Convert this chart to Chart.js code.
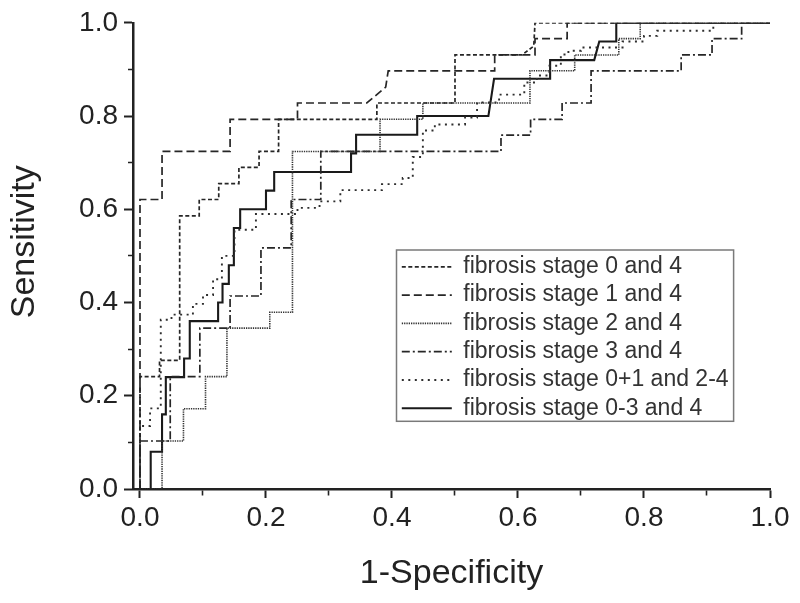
<!DOCTYPE html>
<html>
<head>
<meta charset="utf-8">
<script src="https://cdn.jsdelivr.net/npm/chart.js@4.4.1/dist/chart.umd.min.js"></script>
<style>
html,body{margin:0;padding:0;background:#ffffff;}
#wrap{width:800px;height:603px;position:relative;}
</style>
</head>
<body>
<div id="wrap"><canvas id="c"></canvas></div>
<script>
// ---- data ----
const seriesNames = [
  'fibrosis stage 0 and 4',
  'fibrosis stage 1 and 4',
  'fibrosis stage 2 and 4',
  'fibrosis stage 3 and 4',
  'fibrosis stage 0+1 and 2-4',
  'fibrosis stage 0-3 and 4'
];

// stage 0 and 4
const fpr_s0 = [0, 0, 0.031, 0.031, 0.063, 0.063, 0.094, 0.094, 0.125, 0.125, 0.157, 0.157, 0.189, 0.189, 0.22, 0.22, 0.376, 0.376, 0.5, 0.5, 0.606, 0.625, 0.627, 1.0];
const tpr_s0 = [0, 0.241, 0.241, 0.276, 0.276, 0.586, 0.586, 0.621, 0.621, 0.655, 0.655, 0.690, 0.690, 0.724, 0.724, 0.793, 0.793, 0.828, 0.828, 0.931, 0.931, 0.950, 1.0, 1.0];

// stage 1 and 4
const fpr_s1 = [0, 0, 0.035, 0.035, 0.143, 0.143, 0.25, 0.25, 0.36, 0.39, 0.394, 0.563, 0.563, 0.627, 0.627, 0.678, 0.678, 1.0];
const tpr_s1 = [0, 0.621, 0.621, 0.724, 0.724, 0.793, 0.793, 0.828, 0.828, 0.862, 0.897, 0.897, 0.931, 0.931, 0.966, 0.966, 1.0, 1.0];

// stage 2 and 4
const fpr_s2 = [0, 0.035, 0.035, 0.069, 0.069, 0.104, 0.104, 0.138, 0.138, 0.206, 0.206, 0.242, 0.242, 0.381, 0.381, 0.449, 0.449, 0.619, 0.619, 0.69, 0.69, 0.76, 0.76, 0.794, 0.794, 1.0];
const tpr_s2 = [0, 0, 0.103, 0.103, 0.172, 0.172, 0.241, 0.241, 0.345, 0.345, 0.379, 0.379, 0.724, 0.724, 0.793, 0.793, 0.828, 0.828, 0.897, 0.897, 0.931, 0.931, 0.966, 0.966, 1.0, 1.0];

// stage 3 and 4
const fpr_s3 = [0, 0, 0.048, 0.048, 0.095, 0.095, 0.143, 0.143, 0.192, 0.192, 0.24, 0.24, 0.287, 0.287, 0.573, 0.573, 0.62, 0.62, 0.67, 0.67, 0.716, 0.716, 0.859, 0.859, 0.908, 0.908, 0.955, 0.955, 1.0];
const tpr_s3 = [0, 0.103, 0.103, 0.241, 0.241, 0.345, 0.345, 0.414, 0.414, 0.517, 0.517, 0.621, 0.621, 0.724, 0.724, 0.759, 0.759, 0.793, 0.793, 0.828, 0.828, 0.897, 0.897, 0.931, 0.931, 0.966, 0.966, 1.0, 1.0];

// stage 0+1 and 2-4
const fpr_s01 = [0, 0, 0.016, 0.016, 0.033, 0.033, 0.05, 0.05, 0.084, 0.084, 0.1, 0.1, 0.116, 0.116, 0.13, 0.13, 0.15, 0.15, 0.184, 0.184, 0.25, 0.25, 0.285, 0.285, 0.318, 0.318, 0.384, 0.384, 0.417, 0.417, 0.433, 0.433, 0.449, 0.449, 0.468, 0.468, 0.516, 0.516, 0.535, 0.535, 0.57, 0.57, 0.61, 0.61, 0.63, 0.63, 0.65, 0.65, 0.668, 0.668, 0.68, 0.68, 0.7, 0.7, 0.766, 0.766, 0.8, 0.8, 0.821, 0.821, 0.91, 0.91, 1.0];
const tpr_s01 = [0, 0.135, 0.135, 0.173, 0.173, 0.363, 0.363, 0.374, 0.374, 0.397, 0.397, 0.416, 0.416, 0.45, 0.45, 0.50, 0.50, 0.556, 0.556, 0.59, 0.59, 0.603, 0.603, 0.617, 0.617, 0.641, 0.641, 0.654, 0.654, 0.667, 0.667, 0.712, 0.712, 0.769, 0.769, 0.782, 0.782, 0.797, 0.797, 0.829, 0.829, 0.846, 0.846, 0.872, 0.872, 0.887, 0.887, 0.908, 0.908, 0.932, 0.932, 0.94, 0.94, 0.947, 0.947, 0.96, 0.96, 0.972, 0.972, 0.983, 0.983, 1.0, 1.0];

// stage 0-3 and 4
const fpr_s03 = [0, 0.017, 0.017, 0.035, 0.035, 0.041, 0.041, 0.07, 0.07, 0.079, 0.079, 0.124, 0.124, 0.131, 0.131, 0.141, 0.141, 0.149, 0.149, 0.159, 0.159, 0.2, 0.2, 0.213, 0.213, 0.335, 0.335, 0.343, 0.343, 0.44, 0.44, 0.553, 0.562, 0.651, 0.651, 0.721, 0.729, 0.756, 0.756, 1.0];
const tpr_s03 = [0, 0, 0.08, 0.08, 0.16, 0.16, 0.24, 0.24, 0.28, 0.28, 0.36, 0.36, 0.40, 0.40, 0.44, 0.44, 0.48, 0.48, 0.56, 0.56, 0.60, 0.60, 0.64, 0.64, 0.68, 0.68, 0.72, 0.72, 0.76, 0.76, 0.80, 0.80, 0.88, 0.88, 0.92, 0.92, 0.96, 0.96, 1.0, 1.0];

const majorTicks = [0, 0.2, 0.4, 0.6, 0.8, 1.0];
const minorTicks = [0.1, 0.3, 0.5, 0.7, 0.9];
const xTitle = '1-Specificity';
const yTitle = 'Sensitivity';

// ---- styling ----
const FONT = "'Liberation Sans', Arial, Helvetica, sans-serif";
const INK = '#222222';
const lineStyles = [
  { dash: [4, 2.5], width: 1.7, color: '#262626' },
  { dash: [8, 4], width: 1.7, color: '#262626' },
  { dash: [1.3, 1], width: 1.6, color: '#333333' },
  { dash: [8, 3, 2, 3], width: 1.7, color: '#262626' },
  { dash: [2, 4.5], width: 1.9, color: '#2e2e2e' },
  { dash: [], width: 2.1, color: '#1a1a1a' }
];
const fprs = [fpr_s0, fpr_s1, fpr_s2, fpr_s3, fpr_s01, fpr_s03];
const tprs = [tpr_s0, tpr_s1, tpr_s2, tpr_s3, tpr_s01, tpr_s03];

const datasets = seriesNames.map((name, k) => ({
  label: name,
  data: fprs[k].map((x, i) => ({ x: x, y: tprs[k][i] })),
  showLine: true,
  borderColor: lineStyles[k].color,
  borderWidth: lineStyles[k].width,
  borderDash: lineStyles[k].dash,
  backgroundColor: 'transparent',
  pointRadius: 0,
  pointHoverRadius: 0,
  tension: 0,
  fill: false
}));

const allTicks = majorTicks.concat(minorTicks).sort((a, b) => a - b);
const isMajor = v => majorTicks.some(m => Math.abs(m - v) < 1e-6);

const TL = 9; // tick length
const legendPlacer = {
  id: 'legendPlacer',
  afterLayout(chart) {
    const lg = chart.legend;
    if (!lg) return;
    const w = lg.width, h = lg.height;
    lg.left = 396.5; lg.top = 250;
    lg.right = lg.left + w; lg.bottom = lg.top + h;
  },
  afterDraw(chart) {
    const lg = chart.legend;
    if (!lg || !lg.legendHitBoxes || !lg.legendHitBoxes.length) return;
    const hb = lg.legendHitBoxes;
    const last = hb[hb.length - 1];
    const right = Math.max(...hb.map(b => b.left + b.width)) + 5;
    const bottom = last.top + last.height + 1.5;
    const ctx = chart.ctx;
    ctx.save();
    ctx.strokeStyle = '#7a7a7a';
    ctx.lineWidth = 1.5;
    ctx.setLineDash([]);
    ctx.strokeRect(lg.left, lg.top, right - lg.left, bottom - lg.top);
    ctx.restore();
  }
};

new Chart(document.getElementById('c'), {
  type: 'scatter',
  data: { datasets: datasets },
  options: {
    responsive: true,
    maintainAspectRatio: false,
    animation: false,
    events: [],
    layout: { padding: { top: 21, right: 30, left: 0, bottom: 0 } },
    plugins: {
      tooltip: { enabled: false },
      legend: {
        display: true,
        position: 'chartArea',
        align: 'start',
        labels: {
          usePointStyle: true,
          pointStyle: 'line',
          pointStyleWidth: 50,
          padding: 5.3,
          color: '#333333',
          font: { family: FONT, size: 23 },
          generateLabels: (chart) => chart.data.datasets.map((ds, i) => ({
            text: ds.label,
            strokeStyle: ds.borderColor,
            fillStyle: 'transparent',
            lineWidth: ds.borderWidth,
            lineDash: ds.borderDash,
            lineCap: 'butt',
            pointStyle: 'line',
            hidden: false,
            fontColor: '#333333',
            datasetIndex: i
          }))
        }
      }
    },
    scales: {
      x: {
        type: 'linear',
        position: 'bottom',
        min: -0.0111,
        max: 1.0,
        afterBuildTicks: (scale) => { scale.ticks = allTicks.map(v => ({ value: v })); },
        afterFit: (scale) => { scale.height = 603 - 489; },
        border: { display: true, color: INK, width: 2.5 },
        grid: {
          drawOnChartArea: false,
          drawTicks: true,
          tickLength: TL,
          tickColor: INK,
          tickWidth: (c) => isMajor(c.tick.value) ? 2 : 1.6,
          tickBorderDash: (c) => isMajor(c.tick.value) ? [] : [5, 100]
        },
        ticks: {
          autoSkip: false,
          maxRotation: 0,
          padding: 3,
          color: INK,
          font: { family: FONT, size: 28 },
          callback: (v) => isMajor(v) ? v.toFixed(1) : ''
        },
        title: {
          display: true,
          text: xTitle,
          color: INK,
          font: { family: FONT, size: 34 },
          padding: { top: 0, bottom: 9 }
        }
      },
      y: {
        type: 'linear',
        position: 'left',
        min: 0,
        max: 1.0,
        afterBuildTicks: (scale) => { scale.ticks = allTicks.map(v => ({ value: v })); },
        afterFit: (scale) => { scale.width = 133; },
        border: { display: true, color: INK, width: 2.5 },
        grid: {
          drawOnChartArea: false,
          drawTicks: true,
          tickLength: TL,
          tickColor: INK,
          tickWidth: (c) => isMajor(c.tick.value) ? 2 : 1.6,
          tickBorderDash: (c) => isMajor(c.tick.value) ? [] : [0, 4, 5, 100]
        },
        ticks: {
          autoSkip: false,
          padding: 6,
          color: INK,
          font: { family: FONT, size: 28 },
          callback: (v) => isMajor(v) ? v.toFixed(1) : ''
        },
        title: {
          display: true,
          text: '   ' + yTitle,
          color: INK,
          font: { family: FONT, size: 34 },
          padding: { top: 4, bottom: 0 }
        }
      }
    }
  },
  plugins: [legendPlacer]
});
</script>
</body>
</html>
